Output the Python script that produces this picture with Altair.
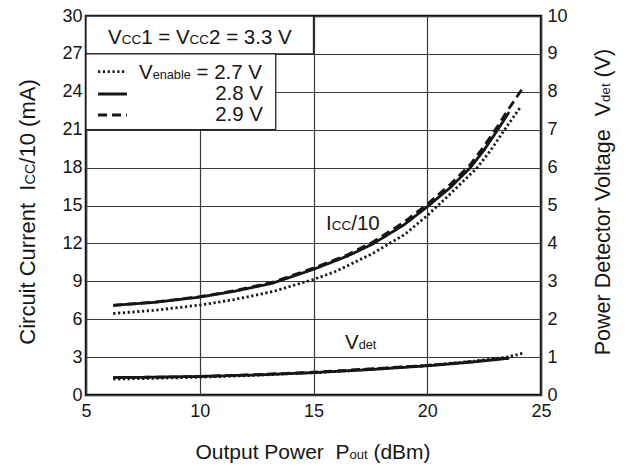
import altair as alt
import pandas as pd

# ---------------- data ----------------
SERIES = ["2.7 V", "2.8 V", "2.9 V"]

pout_icc_27 = [6.2, 8.0, 10.0, 11.5, 13.2, 15.0, 16.0, 17.6, 19.0, 20.0, 21.0, 22.2, 22.8, 23.4, 24.1]
icc_27 = [6.45, 6.7, 7.12, 7.55, 8.18, 9.15, 9.8, 11.2, 12.7, 14.2, 15.9, 18.0, 19.4, 21.0, 22.8]

pout_icc_28 = [6.2, 8.0, 10.0, 11.5, 13.2, 15.0, 16.5, 17.6, 19.0, 20.0, 21.0, 21.9, 22.5, 23.1, 23.6]
icc_28 = [7.1, 7.33, 7.75, 8.2, 8.85, 9.95, 11.0, 11.95, 13.5, 14.9, 16.4, 18.0, 19.4, 21.0, 22.4]

pout_icc_29 = [6.2, 8.0, 10.0, 11.5, 13.2, 15.0, 16.5, 17.6, 19.0, 20.0, 21.0, 21.9, 22.5, 23.1, 23.6, 24.2]
icc_29 = [7.1, 7.35, 7.78, 8.25, 8.92, 10.05, 11.1, 12.1, 13.7, 15.1, 16.65, 18.25, 19.7, 21.3, 22.7, 24.3]

pout_vdet_27 = [6.2, 8.0, 10.0, 12.5, 15.0, 17.5, 20.0, 22.0, 23.5, 24.2]
vdet_27 = [0.42, 0.44, 0.47, 0.52, 0.59, 0.68, 0.78, 0.89, 1.0, 1.1]

pout_vdet_28 = [6.2, 8.0, 10.0, 12.5, 15.0, 17.5, 20.0, 22.0, 23.6]
vdet_28 = [0.46, 0.47, 0.49, 0.53, 0.59, 0.67, 0.77, 0.87, 0.97]

pout_vdet_29 = [6.2, 8.0, 10.0, 12.5, 15.0, 17.5, 20.0, 22.0, 23.6]
vdet_29 = [0.46, 0.47, 0.49, 0.54, 0.60, 0.69, 0.78, 0.88, 0.98]

x_ticks = [5, 10, 15, 20, 25]
yl_ticks = [0, 3, 6, 9, 12, 15, 18, 21, 24, 27, 30]
yr_ticks = list(range(0, 11))

# legend boxes (data units of the left axis)
box_x0 = [5, 5]
box_x1 = [15, 13.34]
box_y0 = [27, 21]
box_y1 = [30, 27]

# ---------------- layout ----------------
W_PX, H_PX = 455, 379
PX_X = W_PX / 20.0
PX_Y = H_PX / 30.0
FONT = "Liberation Sans"
INK = "#161616"

def dxp(px):  # page px -> x data
    return 5 + (px - 86) / PX_X

def dyp(py):  # page px -> left-axis data
    return (395 - py) / PX_Y

AW = {" ": 278, "(": 333, ")": 333, "/": 278, ".": 278, "=": 584,
      "0": 556, "1": 556, "2": 556, "3": 556, "4": 556, "5": 556, "6": 556, "7": 556, "8": 556, "9": 556,
      "A": 667, "B": 667, "C": 722, "D": 722, "E": 667, "I": 278, "M": 833, "O": 778, "P": 667, "V": 667,
      "a": 556, "b": 556, "c": 500, "d": 556, "e": 556, "g": 556, "i": 222, "l": 222, "m": 833, "n": 556,
      "o": 556, "p": 556, "r": 333, "s": 500, "t": 278, "u": 556, "w": 722}

def tw(s, fs):
    return sum(AW.get(c, 556) for c in s) / 1000.0 * fs

rows = []

def place(segs, x0, y0, vertical=False):
    off = 0.0
    for s, fs in segs:
        lead = len(s) - len(s.lstrip(" "))
        o = off + tw(s[:lead], fs)
        if vertical:
            rows.append(dict(x=x0, y=y0 + o / PX_Y, t=s.strip(), size=fs, angle=270))
        else:
            rows.append(dict(x=x0 + o / PX_X, y=y0, t=s.strip(), size=fs, angle=0))
        off += tw(s, fs)
    return off

def total(segs):
    return sum(tw(s, fs) for s, fs in segs)

FL, FSC, FSUB = 20.5, 13.5, 12.7

# legend texts
place([("V", FL), ("CC", FSC), ("1 = V", FL), ("CC", FSC), ("2 = 3.3 V", FL)], dxp(108), dyp(44))
place([("V", FL), ("enable", FSUB), (" = 2.7 V", FL)], dxp(139), dyp(78.5))
place([("2.8 V", FL)], dxp(263) - tw("2.8 V", FL) / PX_X, dyp(100))
place([("2.9 V", FL)], dxp(263) - tw("2.9 V", FL) / PX_X, dyp(120.5))
# curve labels
place([("I", FL), ("CC", FSC), ("/10", FL)], dxp(326), dyp(230))
place([("V", FL), ("det", FSUB)], dxp(345), dyp(349))
# axis titles (words split so that no double space has to survive in SVG)
xt = [("Output Power", 21), ("  P", 21), ("out", 13), (" (dBm)", 21)]
place(xt, dxp(313) - total(xt) / 2 / PX_X, dyp(459))
lt = [("Circuit Current", 22), ("  I", 22), ("CC", 14.5), ("/10 (mA)", 22)]
place(lt, dxp(35), dyp(212) - total(lt) / 2 / PX_Y, vertical=True)
rt = [("Power Detector Voltage", 21.5), ("  V", 21.5), ("det", 13.3), (" (V)", 21.5)]
place(rt, dxp(610), dyp(202) - total(rt) / 2 / PX_Y, vertical=True)

text_df = pd.DataFrame(rows)

# legend sample lines
leg_x0 = [5.53, 5.53, 5.53]
leg_x1 = [6.80, 6.80, 6.80]
leg_y = [dyp(71.7), dyp(94), dyp(115)]

# ---------------- tables ----------------
def long(xs, ys, name):
    return pd.DataFrame({"pout": xs, "val": ys, "series": name})

icc_df = pd.concat([long(pout_icc_27, icc_27, SERIES[0]),
                    long(pout_icc_28, icc_28, SERIES[1]),
                    long(pout_icc_29, icc_29, SERIES[2])])
vdet_df = pd.concat([long(pout_vdet_27, vdet_27, SERIES[0]),
                     long(pout_vdet_28, vdet_28, SERIES[1]),
                     long(pout_vdet_29, vdet_29, SERIES[2])])
box_df = pd.DataFrame({"x0": box_x0, "x1": box_x1, "y0": box_y0, "y1": box_y1})
leg_df = pd.DataFrame({"x0": leg_x0, "x1": leg_x1, "y": leg_y, "series": SERIES})

xs = alt.Scale(domain=[5, 25], nice=False, zero=False)
yls = alt.Scale(domain=[0, 30], nice=False)
yrs = alt.Scale(domain=[0, 10], nice=False)
dash = alt.StrokeDash("series:N", legend=None,
                      scale=alt.Scale(domain=SERIES, range=[[2.2, 2.6], [1, 0], [9, 5]]))

x_axis = alt.Axis(values=x_ticks, grid=True, ticks=False, domain=False, title="",
                  labelPadding=7, labelFlush=False, labelOverlap=False)
yl_axis = alt.Axis(values=yl_ticks, grid=True, ticks=False, domain=False, title="",
                   labelPadding=4, labelOverlap=False)
yr_axis = alt.Axis(values=yr_ticks, orient="right", grid=False, ticks=False, domain=False,
                   title="", labelPadding=6, labelOverlap=False)

icc = alt.Chart(icc_df).mark_line(strokeWidth=2.8, color=INK, strokeCap="butt").encode(
    x=alt.X("pout:Q", scale=xs, axis=x_axis),
    y=alt.Y("val:Q", scale=yls, axis=yl_axis),
    strokeDash=dash,
)

boxes = alt.Chart(box_df).mark_rect(fill="white", stroke="#222", strokeWidth=1.3).encode(
    x=alt.X("x0:Q", scale=xs, axis=x_axis), x2="x1:Q",
    y=alt.Y("y0:Q", scale=yls, axis=yl_axis), y2="y1:Q",
)

samples = alt.Chart(leg_df).mark_rule(strokeWidth=2.8, color=INK, strokeCap="butt").encode(
    x=alt.X("x0:Q", scale=xs, axis=x_axis), x2="x1:Q",
    y=alt.Y("y:Q", scale=yls, axis=yl_axis),
    strokeDash=dash,
)

texts = alt.Chart(text_df).mark_text(align="left", baseline="alphabetic", font=FONT, color=INK).encode(
    x=alt.X("x:Q", scale=xs, axis=x_axis),
    y=alt.Y("y:Q", scale=yls, axis=yl_axis),
    text="t:N",
    size=alt.Size("size:Q", scale=None),
    angle=alt.Angle("angle:Q", scale=None),
)

left = alt.layer(icc, boxes, samples, texts)

vdet = alt.Chart(vdet_df).mark_line(strokeWidth=2.8, color=INK, strokeCap="butt").encode(
    x=alt.X("pout:Q", scale=xs, axis=x_axis),
    y=alt.Y("val:Q", scale=yrs, axis=yr_axis),
    strokeDash=dash,
)

chart = alt.layer(left, vdet).resolve_scale(y="independent").properties(
    width=W_PX, height=H_PX,
    padding={"left": 78, "top": 8, "right": 84, "bottom": 68},
    autosize=alt.AutoSizeParams(type="none"),
    background="white",
).configure_view(stroke="#111", strokeWidth=2.5).configure_axis(
    labelFont=FONT, labelColor=INK, labelFontSize=18,
    gridColor="#3a3a3a", gridWidth=1.2, gridOpacity=1,
)

chart.save("out.html", embed_options={"renderer": "svg", "actions": False})
